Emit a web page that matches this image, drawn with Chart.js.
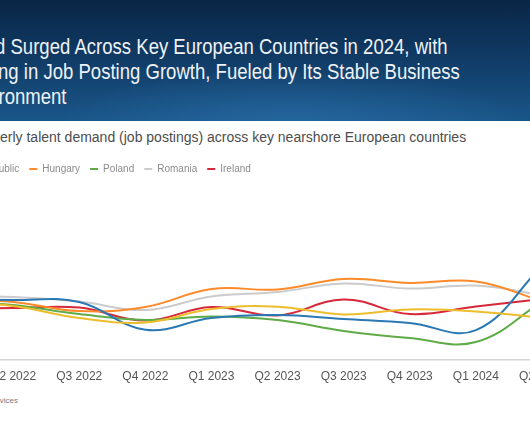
<!DOCTYPE html>
<html><head><meta charset="utf-8">
<script src="https://cdn.jsdelivr.net/npm/chart.js@4.4.1/dist/chart.umd.min.js"></script>
<style>
html,body{margin:0;padding:0;width:530px;height:442px;overflow:hidden;background:#fff;position:relative;font-family:"Liberation Sans",Arial,sans-serif;}
#header{position:absolute;left:0;top:0;width:530px;height:121px;
background:radial-gradient(ellipse 60% 55% at 55% 100%, rgba(45,115,175,0.55), rgba(45,115,175,0) 75%),
linear-gradient(180deg,#0a2646 0%,#0f3760 40%,#1a5689 100%);}
.tl{position:absolute;white-space:nowrap;color:#eef2f6;font-family:"Liberation Sans",Arial,sans-serif;font-size:22px;line-height:25px;transform:scaleX(0.843);transform-origin:100% 50%;}
#sub{position:absolute;left:-35px;top:129px;white-space:nowrap;color:#4d4d4d;font-size:14px;}
#src{position:absolute;right:512px;top:396px;white-space:nowrap;color:#7a7a7a;font-size:8px;}
#c{position:absolute;left:-134px;top:154px;}
</style></head>
<body>
<div id="header">
<div class="tl" style="right:82px;top:34px;">Talent Demand Surged Across Key European Countries in 2024, with</div>
<div class="tl" style="right:70px;top:59px;">Czech Republic Leading in Job Posting Growth, Fueled by Its Stable Business</div>
<div class="tl" style="right:463px;top:84px;">Environment</div>
</div>
<div id="sub">Quarterly talent demand (job postings) across key nearshore European countries</div>
<canvas id="c" width="754" height="236"></canvas>
<div id="src">Source: Talent Intelligence, Job Posting Analytics Services</div>
<script>
const quarters = ['Q1 2022','Q2 2022','Q3 2022','Q4 2022','Q1 2023','Q2 2023','Q3 2023','Q4 2023','Q1 2024','Q2 2024'];
const portugal = [33.5, 30.7, 23.9, 21.3, 29.0, 30.3, 25.9, 28.7, 27.6, 23.9];
const czechRepublic = [34.1, 34.1, 33.0, 17.2, 23.9, 25.6, 23.3, 21.0, 17.0, 53.4];
const hungary = [34.1, 33.0, 27.8, 30.1, 40.3, 40.1, 46.0, 43.8, 44.6, 33.5];
const poland = [33.5, 31.3, 26.1, 22.7, 24.7, 22.7, 16.5, 12.5, 10.2, 33.0];
const romania = [36.9, 35.8, 33.2, 28.4, 36.1, 38.6, 43.5, 40.6, 42.3, 36.9];
const ireland = [29.0, 29.5, 29.8, 22.4, 30.1, 25.3, 34.4, 26.1, 30.4, 34.7];

const seriesNames = ['Portugal','Czech Republic','Hungary','Poland','Romania','Ireland'];
const seriesData = [portugal, czechRepublic, hungary, poland, romania, ireland];
const seriesColors = ['#ecbd2c','#2a78b4','#ff8a2a','#5fab47','#cbcbcb','#d6283a'];

const ds = seriesNames.map((n,i)=>({
  label:n, data:seriesData[i], borderColor:seriesColors[i], backgroundColor:seriesColors[i],
  borderWidth:2, pointRadius:0, tension:0.4, fill:false
}));

new Chart(document.getElementById('c'),{
  type:'line',
  data:{labels:quarters,datasets:ds},
  options:{
    responsive:false, animation:false, devicePixelRatio:1,
    layout:{padding:{left:0,right:78,top:0,bottom:0}},
    plugins:{
      legend:{position:'top',align:'start',
        labels:{usePointStyle:true,pointStyle:'line',pointStyleWidth:8,padding:10,color:'#8c8c8c',
          font:{family:'"Liberation Sans", Arial, sans-serif',size:10}}},
      tooltip:{enabled:false}
    },
    scales:{
      x:{grid:{display:false,drawTicks:false},border:{display:true,color:'#d6d6d6',width:1.6},
        ticks:{color:'#555555',padding:9,maxRotation:0,autoSkip:false,font:{family:'"Liberation Sans", Arial, sans-serif',size:12}},
        afterFit:(s)=>{s.height=30;}},
      y:{min:0,max:100,grid:{display:false},border:{display:false},ticks:{display:false},
        afterFit:(s)=>{s.width=81;}}
    }
  }
});
</script>
</body></html>
